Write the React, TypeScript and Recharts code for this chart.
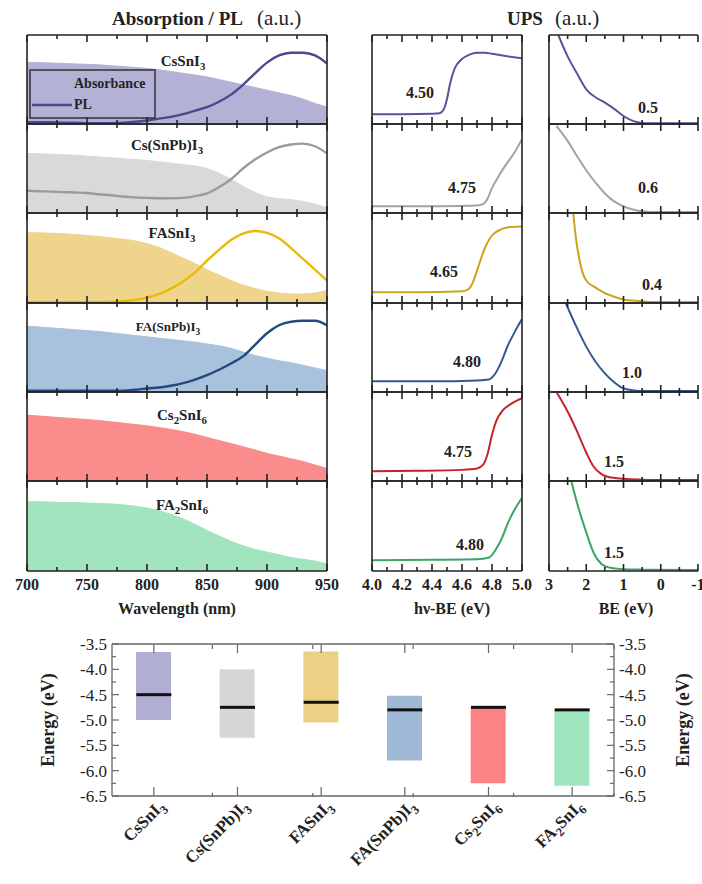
import React from 'react'
import {
  ComposedChart, Area, Line, Bar, Scatter, XAxis, YAxis, Cell,
} from 'recharts'

const INK = '#222'
const FRAME = '#666'
const SERIF = 'Liberation Serif, serif'

// ---- absorption / PL (normalised) ----
const wavelengths = [700, 710, 720, 730, 740, 750, 760, 770, 780, 790, 800, 810, 820, 830, 840, 850, 860, 870, 880, 890, 900, 910, 920, 930, 940, 950]

const absCsSnI3 = [0.69, 0.69, 0.685, 0.68, 0.675, 0.67, 0.665, 0.655, 0.645, 0.635, 0.625, 0.61, 0.59, 0.57, 0.55, 0.53, 0.5, 0.47, 0.44, 0.41, 0.38, 0.35, 0.32, 0.28, 0.23, 0.19]
const plCsSnI3 = [0.02, 0.02, 0.02, 0.015, 0.015, 0.01, 0.01, 0.01, 0.015, 0.025, 0.04, 0.06, 0.08, 0.11, 0.15, 0.19, 0.25, 0.33, 0.44, 0.57, 0.69, 0.77, 0.8, 0.8, 0.77, 0.68]
const absCsSnPbI3 = [0.67, 0.665, 0.66, 0.655, 0.65, 0.64, 0.63, 0.62, 0.61, 0.6, 0.59, 0.575, 0.56, 0.545, 0.53, 0.5, 0.45, 0.38, 0.3, 0.23, 0.18, 0.16, 0.15, 0.13, 0.1, 0.06]
const plCsSnPbI3 = [0.25, 0.245, 0.24, 0.235, 0.23, 0.225, 0.21, 0.2, 0.185, 0.175, 0.17, 0.165, 0.165, 0.17, 0.19, 0.22, 0.29, 0.38, 0.5, 0.6, 0.68, 0.74, 0.77, 0.78, 0.75, 0.67]
const absFASnI3 = [0.78, 0.78, 0.775, 0.77, 0.76, 0.75, 0.74, 0.725, 0.71, 0.69, 0.66, 0.62, 0.56, 0.5, 0.44, 0.37, 0.31, 0.25, 0.2, 0.16, 0.13, 0.11, 0.1, 0.1, 0.11, 0.14]
const plFASnI3 = [0.01, 0.01, 0.01, 0.01, 0.01, 0.01, 0.01, 0.015, 0.02, 0.035, 0.06, 0.1, 0.16, 0.24, 0.34, 0.47, 0.59, 0.7, 0.77, 0.8, 0.78, 0.72, 0.61, 0.49, 0.37, 0.25]
const absFASnPbI3 = [0.74, 0.73, 0.72, 0.71, 0.7, 0.69, 0.68, 0.665, 0.65, 0.635, 0.62, 0.605, 0.59, 0.575, 0.56, 0.54, 0.52, 0.49, 0.45, 0.41, 0.38, 0.35, 0.33, 0.3, 0.27, 0.24]
const plFASnPbI3 = [0.015, 0.015, 0.015, 0.015, 0.015, 0.015, 0.015, 0.015, 0.015, 0.025, 0.04, 0.05, 0.07, 0.1, 0.14, 0.19, 0.25, 0.32, 0.4, 0.53, 0.66, 0.75, 0.79, 0.8, 0.8, 0.75]
const absCs2SnI6 = [0.74, 0.73, 0.72, 0.71, 0.7, 0.69, 0.68, 0.665, 0.65, 0.635, 0.62, 0.6, 0.58, 0.555, 0.525, 0.49, 0.455, 0.42, 0.385, 0.35, 0.31, 0.28, 0.25, 0.22, 0.18, 0.14]
const absFA2SnI6 = [0.77, 0.77, 0.765, 0.76, 0.76, 0.755, 0.75, 0.745, 0.735, 0.72, 0.7, 0.67, 0.63, 0.58, 0.52, 0.45, 0.39, 0.33, 0.28, 0.24, 0.21, 0.18, 0.15, 0.13, 0.11, 0.08]

// ---- UPS cut-off region, [hv-BE, intensity] ----
const cutCsSnI3 = [[4.0, 0.11], [4.2, 0.11], [4.4, 0.115], [4.45, 0.12], [4.48, 0.17], [4.5, 0.28], [4.52, 0.45], [4.55, 0.62], [4.6, 0.73], [4.65, 0.78], [4.7, 0.8], [4.75, 0.8], [4.8, 0.79], [4.9, 0.76], [5.0, 0.74]]
const cutCsSnPbI3 = [[4.0, 0.075], [4.3, 0.075], [4.6, 0.08], [4.7, 0.085], [4.74, 0.1], [4.77, 0.16], [4.8, 0.28], [4.85, 0.43], [4.9, 0.56], [4.95, 0.68], [5.0, 0.83]]
const cutFASnI3 = [[4.0, 0.12], [4.3, 0.12], [4.6, 0.13], [4.64, 0.15], [4.67, 0.22], [4.7, 0.36], [4.75, 0.6], [4.8, 0.75], [4.85, 0.81], [4.9, 0.84], [5.0, 0.85]]
const cutFASnPbI3 = [[4.0, 0.12], [4.4, 0.12], [4.7, 0.13], [4.78, 0.14], [4.81, 0.18], [4.84, 0.26], [4.87, 0.37], [4.9, 0.5], [4.95, 0.67], [5.0, 0.82]]
const cutCs2SnI6 = [[4.0, 0.11], [4.3, 0.115], [4.6, 0.125], [4.7, 0.14], [4.74, 0.18], [4.77, 0.3], [4.8, 0.52], [4.83, 0.68], [4.87, 0.79], [4.93, 0.87], [5.0, 0.93]]
const cutFA2SnI6 = [[4.0, 0.12], [4.4, 0.125], [4.7, 0.13], [4.78, 0.15], [4.81, 0.2], [4.84, 0.28], [4.87, 0.38], [4.9, 0.51], [4.95, 0.68], [5.0, 0.81]]

// ---- UPS valence edge, [BE, intensity] ----
const vbCsSnI3 = [[2.75, 1.0], [2.5, 0.76], [2.25, 0.57], [2.0, 0.39], [1.75, 0.3], [1.5, 0.24], [1.25, 0.17], [1.0, 0.09], [0.75, 0.035], [0.5, 0.012], [0.25, 0.008], [0, 0.008], [-1, 0.008]]
const vbCsSnPbI3 = [[2.8, 0.98], [2.5, 0.81], [2.25, 0.64], [2.0, 0.48], [1.75, 0.34], [1.5, 0.22], [1.25, 0.13], [1.0, 0.075], [0.75, 0.04], [0.5, 0.02], [0, 0.01], [-1, 0.01]]
const vbFASnI3 = [[2.35, 1.0], [2.3, 0.8], [2.25, 0.64], [2.2, 0.52], [2.1, 0.34], [2.0, 0.25], [1.75, 0.17], [1.5, 0.11], [1.25, 0.07], [1.0, 0.04], [0.5, 0.02], [0.25, 0.01], [-1, 0.01]]
const vbFASnPbI3 = [[2.55, 1.0], [2.25, 0.72], [2.0, 0.51], [1.75, 0.34], [1.5, 0.21], [1.25, 0.11], [1.0, 0.04], [0.75, 0.02], [0.5, 0.01], [-1, 0.01]]
const vbCs2SnI6 = [[2.8, 1.0], [2.5, 0.78], [2.25, 0.56], [2.0, 0.32], [1.8, 0.16], [1.6, 0.08], [1.4, 0.045], [1.0, 0.025], [0.5, 0.015], [0, 0.01], [-1, 0.01]]
const vbFA2SnI6 = [[2.4, 1.0], [2.25, 0.76], [2.0, 0.43], [1.8, 0.2], [1.6, 0.08], [1.4, 0.04], [1.0, 0.02], [0.5, 0.015], [-1, 0.01]]

// ---- energy levels ----
const samples = ['CsSnI_3', 'Cs(SnPb)I_3', 'FASnI_3', 'FA(SnPb)I_3', 'Cs_2SnI_6', 'FA_2SnI_6']
const workFunction = [4.5, 4.75, 4.65, 4.8, 4.75, 4.8]
const vbOnset = [0.5, 0.6, 0.4, 1.0, 1.5, 1.5]
const bandGap = [1.34, 1.35, 1.4, 1.28, 1.5, 1.5]

// ticks
const wlTicks = [700, 725, 750, 775, 800, 825, 850, 875, 900, 925, 950]
const hvTicks = [4.0, 4.1, 4.2, 4.3, 4.4, 4.5, 4.6, 4.7, 4.8, 4.9, 5.0]
const beTicks = [3, 2.5, 2, 1.5, 1, 0.5, 0, -0.5, -1]
const energyTicks = [-6.5, -6.25, -6, -5.75, -5.5, -5.25, -5, -4.75, -4.5, -4.25, -4, -3.75, -3.5]
const bandEdges = [1, 2, 3, 4, 5]

// colours
const absFill = ['#b4b1d7', '#d9d9d9', '#efd48c', '#a8c1dd', '#fa8c8c', '#a2e4bd']
const plStroke = ['#4a4990', '#9b9b9b', '#ebb908', '#24497d']
const upsStroke = ['#55559e', '#a3a3a3', '#c9a51e', '#35598e', '#c72129', '#3aa566']
const bandFill = ['#b1aed4', '#d6d6d6', '#ecd185', '#9fb9d7', '#fd8484', '#9fe5bd']

// layout
const rowTops = [35, 124, 213, 303, 392, 481, 571]
const colLeft = { x: 27, w: 300 }
const colMid = { x: 372, w: 150 }
const colRight = { x: 549, w: 149 }
const levelPlotH = 152

const absSets = [absCsSnI3, absCsSnPbI3, absFASnI3, absFASnPbI3, absCs2SnI6, absFA2SnI6]
const plSets = [plCsSnI3, plCsSnPbI3, plFASnI3, plFASnPbI3, null, null]
const cutSets = [cutCsSnI3, cutCsSnPbI3, cutFASnI3, cutFASnPbI3, cutCs2SnI6, cutFA2SnI6]
const vbSets = [vbCsSnI3, vbCsSnPbI3, vbFASnI3, vbFASnPbI3, vbCs2SnI6, vbFA2SnI6]

const specRows = absSets.map((abs, k) =>
  wavelengths.map((wl, i) => ({ wl, abs: abs[i], pl: plSets[k] ? plSets[k]![i] : null })),
)
const toXY = (pts: number[][]) => pts.map(([x, y]) => ({ x, y }))

const levels = samples.map((name, i) => {
  const vbm = -(workFunction[i] + vbOnset[i])
  return { name, range: [vbm, vbm + bandGap[i]], wf: -workFunction[i] }
})

const nameLabelPos = [[183, 66], [167, 150], [172, 238], [168, 331], [182, 420], [182, 510]]
const nameLabelSize = [15, 15, 15, 13, 15, 15]
const cutLabelPos = [[420, 98], [462, 193], [444, 277], [467, 367], [458, 457], [470, 550]]
const vbLabelPos = [[648, 113], [648, 193], [652, 290], [632, 378], [614, 467], [614, 558]]

function Formula({ s, size }: { s: string; size: number }) {
  const parts = s.split(/_(\d)/)
  return (
    <>
      {parts.map((t, i) =>
        i % 2 === 1 ? (
          <tspan key={i} dy={size * 0.28} fontSize={size * 0.72}>{t}</tspan>
        ) : (
          <tspan key={i} dy={i === 0 ? 0 : -size * 0.28}>{t}</tspan>
        ),
      )}
    </>
  )
}

// inward tick marks on the bottom edge and, mirrored, on the top edge of the panel
function edgeTick(plotH: number, isMajor: (v: number) => boolean, fmt?: (v: number) => string) {
  return (p: any) => {
    const v = p.payload.value
    const len = isMajor(v) ? 7 : 4
    const topY = p.y - plotH
    return (
      <g>
        <line x1={p.x} x2={p.x} y1={p.y} y2={p.y - len} stroke={INK} strokeWidth={1.6} />
        <line x1={p.x} x2={p.x} y1={topY} y2={topY + len} stroke={INK} strokeWidth={1.6} />
        {fmt && isMajor(v) && (
          <text x={p.x} y={p.y + 19} textAnchor="middle" fontSize={16} fontWeight="bold" fill={INK} fontFamily={SERIF}>
            {fmt(v)}
          </text>
        )}
      </g>
    )
  }
}

type StripProps = {
  left: number
  top: number
  width: number
  height: number
  data?: any[]
  xKey: string
  domain: [number, number]
  ticks: number[]
  isMajor: (v: number) => boolean
  fmt?: (v: number) => string
  reversed?: boolean
  rightEdge?: boolean
  children: React.ReactNode
}

// one framed panel; 1px axes on all four sides form the frame, drawn over the series
function Strip(props: StripProps) {
  const { left, top, width, height, data, xKey, domain, ticks, isMajor, fmt, reversed, rightEdge = true, children } = props
  const labelH = fmt ? 26 : 1
  const edge = { stroke: INK, strokeWidth: 1.6 }
  return (
    <div style={{ position: 'absolute', left: left - 1, top: top - 1 }}>
      <ComposedChart width={width + 2} height={height + 1 + labelH} data={data} margin={{ top: 0, right: 0, bottom: 0, left: 0 }}>
        {children}
        <XAxis xAxisId="b" dataKey={xKey} type="number" domain={domain} ticks={ticks} interval={0} reversed={reversed}
          allowDataOverflow height={labelH} tickSize={0} tickMargin={0} tickLine={false} axisLine={edge}
          tick={edgeTick(height, isMajor, fmt)} />
        <XAxis xAxisId="t" orientation="top" type="number" domain={domain} allowDataOverflow height={1}
          tick={false} tickLine={false} axisLine={edge} />
        <YAxis yAxisId="l" type="number" domain={[0, 1]} allowDataOverflow width={1} tick={false} tickLine={false} axisLine={edge} />
        <YAxis yAxisId="r" orientation="right" type="number" domain={[0, 1]} allowDataOverflow width={1} tick={false}
          tickLine={false} axisLine={rightEdge ? edge : false} />
      </ComposedChart>
    </div>
  )
}

const energyTick = (side: 'left' | 'right') => (p: any) => {
  const v = p.payload.value
  const major = Math.abs(v * 2 - Math.round(v * 2)) < 1e-6
  const len = major ? 7 : 4
  const d = side === 'left' ? 1 : -1
  return (
    <g>
      <line x1={p.x} x2={p.x + d * len} y1={p.y} y2={p.y} stroke={FRAME} strokeWidth={1.2} />
      {major && (
        <text x={p.x - d * 5} y={p.y + 6} textAnchor={side === 'left' ? 'end' : 'start'} fontSize={17}
          fill={INK} fontFamily={SERIF}>
          {v.toFixed(1)}
        </text>
      )}
    </g>
  )
}

// boundary ticks between categories, bottom and top edges
const edgeBandTick = (p: any) => (
  <g>
    <line x1={p.x} x2={p.x} y1={p.y} y2={p.y - 4} stroke={FRAME} strokeWidth={1.2} />
    <line x1={p.x} x2={p.x} y1={p.y - levelPlotH} y2={p.y - levelPlotH + 4} stroke={FRAME} strokeWidth={1.2} />
  </g>
)

// category label, with the centre ticks on both edges
const sampleTick = (p: any) => {
  const ax = p.x + 12
  const ay = p.y + 11
  return (
    <g>
      <line x1={p.x} x2={p.x} y1={p.y} y2={p.y - 9} stroke={FRAME} strokeWidth={1.2} />
      <line x1={p.x} x2={p.x} y1={p.y - levelPlotH} y2={p.y - levelPlotH + 9} stroke={FRAME} strokeWidth={1.2} />
      <text x={ax} y={ay} transform={`rotate(-45 ${ax} ${ay})`} textAnchor="end" fontSize={17} fontWeight="bold"
        fill={INK} fontFamily={SERIF}>
        <Formula s={p.payload.value} size={17} />
      </text>
    </g>
  )
}

const wfMarker = (p: any) => <rect x={p.cx - 17.5} y={p.cy - 1.5} width={35} height={3} fill="#111" />

export default function App() {
  return (
    <div style={{ position: 'absolute', left: 0, top: 0, width: 702, height: 884, background: '#fff', overflow: 'hidden', fontFamily: SERIF }}>
      <style>{'.recharts-surface{overflow:visible}'}</style>
      {specRows.map((rows, k) => (
        <Strip key={'s' + k} left={colLeft.x} top={rowTops[k]} width={colLeft.w} height={rowTops[k + 1] - rowTops[k]}
          data={rows} xKey="wl" domain={[700, 950]} ticks={wlTicks} isMajor={(v) => v % 50 === 0}
          fmt={k === 5 ? (v) => String(v) : undefined}>
          <Area xAxisId="b" yAxisId="l" type="linear" dataKey="abs" fill={absFill[k]} fillOpacity={1}
            stroke={absFill[k]} strokeWidth={1} isAnimationActive={false} />
          {plSets[k] && (
            <Line xAxisId="b" yAxisId="l" type="monotone" dataKey="pl" stroke={plStroke[k]} strokeWidth={2.4}
              dot={false} isAnimationActive={false} />
          )}
        </Strip>
      ))}

      {cutSets.map((pts, k) => (
        <Strip key={'c' + k} left={colMid.x} top={rowTops[k]} width={colMid.w} height={rowTops[k + 1] - rowTops[k]}
          xKey="x" domain={[4, 5]} ticks={hvTicks} isMajor={(v) => Math.round(v * 10) % 2 === 0}
          fmt={k === 5 ? (v) => v.toFixed(1) : undefined}>
          <Line xAxisId="b" yAxisId="l" data={toXY(pts)} type="monotone" dataKey="y" stroke={upsStroke[k]}
            strokeWidth={2} dot={false} isAnimationActive={false} />
        </Strip>
      ))}

      {vbSets.map((pts, k) => (
        <Strip key={'v' + k} left={colRight.x} top={rowTops[k]} width={colRight.w} height={rowTops[k + 1] - rowTops[k]}
          xKey="x" domain={[-1, 3]} reversed ticks={beTicks} isMajor={(v) => Number.isInteger(v)} rightEdge={false}
          fmt={k === 5 ? (v) => String(v) : undefined}>
          <Line xAxisId="b" yAxisId="l" data={toXY(pts)} type="monotone" dataKey="y" stroke={upsStroke[k]}
            strokeWidth={2} dot={false} isAnimationActive={false} />
        </Strip>
      ))}

      <div style={{ position: 'absolute', left: 0, top: 630 }}>
        <ComposedChart width={702} height={254} data={levels} margin={{ top: 13, right: 0, bottom: 86, left: 0 }}>
          <Bar xAxisId="cat" yAxisId="e" dataKey="range" barSize={35} isAnimationActive={false}>
            {levels.map((_, i) => <Cell key={i} fill={bandFill[i]} />)}
          </Bar>
          <Scatter xAxisId="cat" yAxisId="e" dataKey="wf" shape={wfMarker} isAnimationActive={false} />
          <XAxis xAxisId="cat" dataKey="name" type="category" height={1} interval={0} tickSize={0} tickMargin={0}
            tickLine={false} axisLine={{ stroke: FRAME, strokeWidth: 1.3 }} tick={sampleTick} />
          <XAxis xAxisId="grid" type="number" domain={[0, 6]} ticks={bandEdges} interval={0} allowDataOverflow
            height={1} tickSize={0} tickMargin={0} tickLine={false} axisLine={false} tick={edgeBandTick} />
          <XAxis xAxisId="gridTop" orientation="top" type="number" domain={[0, 6]} allowDataOverflow height={1}
            tick={false} tickLine={false} axisLine={{ stroke: FRAME, strokeWidth: 1.3 }} />
          <YAxis yAxisId="e" type="number" domain={[-6.5, -3.5]} ticks={energyTicks} interval={0} allowDataOverflow
            width={112} tickSize={0} tickMargin={0} tickLine={false} axisLine={{ stroke: FRAME, strokeWidth: 1.3 }}
            tick={energyTick('left')} />
          <YAxis yAxisId="e2" orientation="right" type="number" domain={[-6.5, -3.5]} ticks={energyTicks} interval={0}
            allowDataOverflow width={88} tickSize={0} tickMargin={0} tickLine={false}
            axisLine={{ stroke: FRAME, strokeWidth: 1.3 }} tick={energyTick('right')} />
        </ComposedChart>
      </div>

      <svg width={702} height={884} style={{ position: 'absolute', left: 0, top: 0, pointerEvents: 'none' }}
        fontFamily={SERIF} fill={INK}>
        <text x={112} y={25}>
          <tspan fontWeight="bold" fontSize={19}>Absorption / PL</tspan>
          <tspan fontSize={21} dx={14}>(a.u.)</tspan>
        </text>
        <text x={507} y={25}>
          <tspan fontWeight="bold" fontSize={19}>UPS</tspan>
          <tspan fontSize={21} dx={12}>(a.u.)</tspan>
        </text>

        {samples.map((s, k) => (
          <text key={'n' + k} x={nameLabelPos[k][0]} y={nameLabelPos[k][1]} textAnchor="middle"
            fontWeight="bold" fontSize={nameLabelSize[k]}>
            <Formula s={s} size={nameLabelSize[k]} />
          </text>
        ))}

        {workFunction.map((w, k) => (
          <text key={'w' + k} x={cutLabelPos[k][0]} y={cutLabelPos[k][1]} textAnchor="middle" fontWeight="bold" fontSize={16}>
            {w.toFixed(2)}
          </text>
        ))}
        {vbOnset.map((b, k) => (
          <text key={'b' + k} x={vbLabelPos[k][0]} y={vbLabelPos[k][1]} textAnchor="middle" fontWeight="bold" fontSize={16}>
            {b.toFixed(1)}
          </text>
        ))}

        {/* legend of the first panel */}
        <rect x={30} y={70} width={125} height={48} fill="none" stroke="#333" strokeWidth={1.5} />
        <rect x={33} y={75} width={37} height={17} fill={absFill[0]} />
        <text x={74} y={88} fontWeight="bold" fontSize={14}>Absorbance</text>
        <line x1={32} x2={72} y1={105} y2={105} stroke={plStroke[0]} strokeWidth={2.5} />
        <text x={74} y={109} fontWeight="bold" fontSize={14}>PL</text>

        <text x={177} y={614} textAnchor="middle" fontWeight="bold" fontSize={16}>Wavelength (nm)</text>
        <text x={452} y={614} textAnchor="middle" fontWeight="bold" fontSize={16}>hν-BE (eV)</text>
        <text x={626} y={614} textAnchor="middle" fontWeight="bold" fontSize={16}>BE (eV)</text>

        <text x={0} y={0} transform="translate(54 720) rotate(-90)" textAnchor="middle" fontWeight="bold" fontSize={18}>Energy (eV)</text>
        <text x={0} y={0} transform="translate(689 720) rotate(-90)" textAnchor="middle" fontWeight="bold" fontSize={18}>Energy (eV)</text>
      </svg>
    </div>
  )
}
